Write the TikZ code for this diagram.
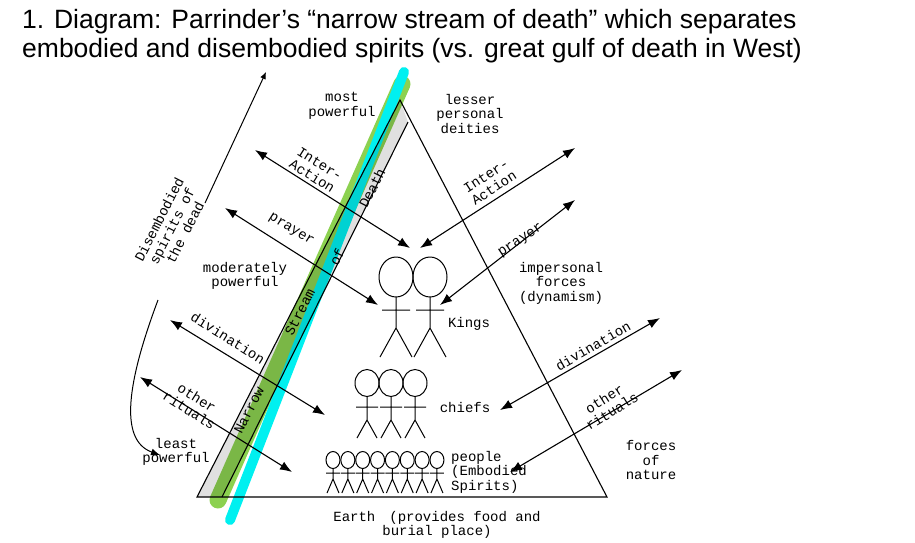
\documentclass[tikz,border=0pt]{standalone}
\usepackage{fontspec}
\setmainfont{Liberation Mono}
\newfontfamily\titlefont{Liberation Sans}
\usetikzlibrary{arrows.meta}
\definecolor{hlgreen}{HTML}{8CD150}
\definecolor{hlcyan}{HTML}{00F0F0}
\begin{document}
\begin{tikzpicture}[x=1pt,y=-1pt,
  lbl/.style={font=\fontsize{14}{14.5}\selectfont,align=center,inner sep=1pt},
  arr/.style={line width=1.1pt,{Latex[length=12pt,width=9pt]}-{Latex[length=12pt,width=9pt]}},
  edge/.style={line width=1.1pt},
  fig/.style={line width=1pt}]
\useasboundingbox (0,0) rectangle (915,542);
\fill[white] (0,0) rectangle (915,542);
% title
\node[anchor=north west,font=\titlefont\fontsize{26.5}{29}\selectfont,align=left,inner sep=0] (title) at (22,9)
 {1. Diagram: Parrinder’s “narrow stream of death” which separates\\embodied and disembodied spirits (vs. great gulf of death in West)};
% highlights
\draw[line width=17pt,hlgreen,line cap=round] (402,84) -- (218,500);
\draw[line width=10pt,hlcyan,line cap=round] (404,72) -- (230,520);
% triangle
\coordinate (apex) at (400,100);
\coordinate (bl) at (197,497);
\coordinate (br) at (607,497);
\coordinate (s1) at (408,122);
\coordinate (s2) at (222,497);
\fill[black,opacity=0.12] (apex) -- (bl) -- (s2) -- (s1) -- cycle;
\draw[edge] (apex) -- (bl) -- (br) -- cycle;
\draw[edge] (s1) -- (s2);
\node[lbl,rotate=63] (w1) at (249,410) {Narrow};
\node[lbl,rotate=63] (w2) at (300,312) {Stream};
\node[lbl,rotate=63] (w3) at (337,257) {of};
\node[lbl,rotate=63] (w4) at (372,188) {Death};
% labels
\node[lbl] (most) at (342,106) {most\\powerful};
\node[lbl] (lesser) at (470,114) {lesser\\personal\\deities};
\node[lbl] (mod) at (245,276) {moderately\\powerful};
\node[lbl] (least) at (176,452) {least\\powerful};
\node[lbl] (imp) at (561,283) {impersonal\\forces\\(dynamism)};
\node[lbl] (kings) at (469,324) {Kings};
\node[lbl] (chiefs) at (465,407) {chiefs};
\node[lbl,align=left,anchor=west] (people) at (450,472) {people\\(Embodied\\Spirits)};
\node[lbl] (forces) at (651,460) {forces\\of\\nature};
\node[lbl,anchor=north] (earth) at (437,510) {Earth\quad(provides food and\\burial place)};
% left arrows
\coordinate (la1) at (255,150); \coordinate (lb1) at (410,248);
\coordinate (la2) at (225,208); \coordinate (lb2) at (378,305);
\coordinate (la3) at (170,320); \coordinate (lb3) at (325,415);
\coordinate (la4) at (140,377); \coordinate (lb4) at (292,472);
\draw[arr] (la1) -- (lb1);
\draw[arr] (la2) -- (lb2);
\draw[arr] (la3) -- (lb3);
\draw[arr] (la4) -- (lb4);
\node[lbl,rotate=-32] (t1) at (316,170) {Inter-\\Action};
\node[lbl,rotate=-32] (t2) at (291,230) {prayer};
\node[lbl,rotate=-32] (t3) at (228,338) {divination};
\node[lbl,rotate=-32] (t4) at (193,404) {other\\rituals};
% right arrows
\coordinate (ra1) at (575,148); \coordinate (rb1) at (420,248);
\coordinate (ra2) at (575,200); \coordinate (rb2) at (440,305);
\coordinate (ra3) at (660,318); \coordinate (rb3) at (500,410);
\coordinate (ra4) at (682,370); \coordinate (rb4) at (510,472);
\draw[arr] (ra1) -- (rb1);
\draw[arr] (ra2) -- (rb2);
\draw[arr] (ra3) -- (rb3);
\draw[arr] (ra4) -- (rb4);
\node[lbl,rotate=33] (u1) at (490,182) {Inter-\\Action};
\node[lbl,rotate=33] (u2) at (521,241) {prayer};
\node[lbl,rotate=30] (u3) at (593,346) {divination};
\node[lbl,rotate=32] (u4) at (608,405) {other\\rituals};
% disembodied spirits
\coordinate (d1) at (205,203); \coordinate (d2) at (266,72);
\draw[line width=1pt,-{Latex[length=7pt,width=6pt]}] (d1) -- (d2);
\node[lbl,rotate=63] (dis) at (172,226) {Disembodied\\spirits of\\the dead};
\coordinate (d3) at (158,300); \coordinate (d4) at (160,455);
\draw[line width=1pt,-{Latex[length=9pt,width=7pt]}] (d3) .. controls (128,380) and (118,440) .. (d4);
% kings
\foreach \x in {396,430}{
  \draw[fig] (\x,277) ellipse (17 and 20);
  \draw[fig] (\x,297) -- (\x,328) (\x-14,310) -- (\x+14,310) (\x-16,357) -- (\x,328) -- (\x+16,357);
}
% chiefs
\foreach \x in {367,391,415}{
  \draw[fig] (\x,383) ellipse (12 and 13.5);
  \draw[fig] (\x,396.5) -- (\x,420) (\x-11,407) -- (\x+11,407) (\x-10,438) -- (\x,420) -- (\x+10,438);
}
% people
\foreach \i in {0,...,7}{
  \pgfmathsetmacro\x{333+14.85*\i}
  \draw[fig] (\x,460) ellipse (7 and 8.5);
  \draw[fig] (\x,468.5) -- (\x,479) (\x-7,473) -- (\x+7,473) (\x-6,493) -- (\x,479) -- (\x+6,493);
}
\end{tikzpicture}
\end{document}
